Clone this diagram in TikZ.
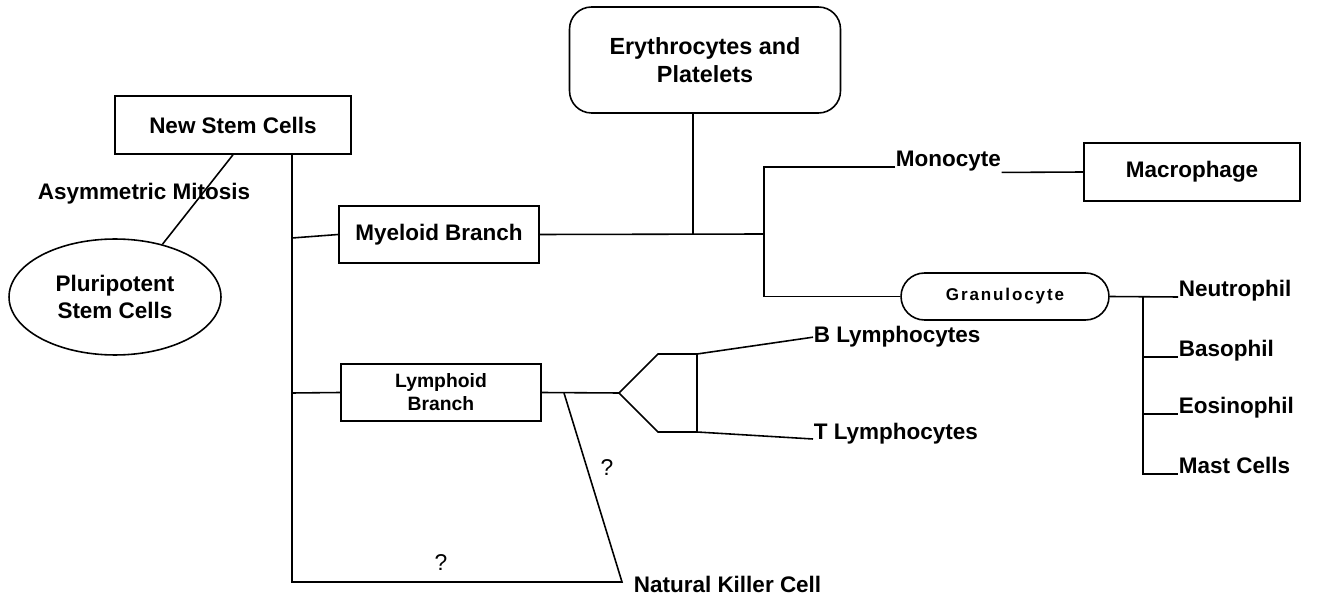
\documentclass[tikz,border=0pt]{standalone}
\usepackage{fontspec}
\setmainfont{Liberation Sans}
\newfontfamily\granfont[LetterSpace=11]{Liberation Sans}
\usetikzlibrary{shapes.geometric}

\begin{document}
\begin{tikzpicture}[x=0.02cm, y=-0.02cm, line width=0.9pt,
    every node/.style={font=\fontsize{12.8}{14}\selectfont\bfseries},
    cellbox/.style={draw, rectangle, inner sep=0, align=center},
    lbl/.style={inner sep=0, anchor=base west}]
    \useasboundingbox (0,0) rectangle (1321,597);
    % boxes
    \node[cellbox, minimum width=4.72cm, minimum height=1.16cm] (nsc) at (233,125) {New Stem Cells};
    \node[draw, ellipse, inner sep=0, align=center, minimum width=4.24cm, minimum height=2.32cm,
        font=\fontsize{12.8}{15.4}\selectfont\bfseries] (psc) at (115,297) {Pluripotent\\Stem Cells};
    \node (asym) at (144,194) {Asymmetric Mitosis};
    \node[cellbox, rounded corners=0.44cm, minimum width=5.42cm, minimum height=2.12cm,
        font=\fontsize{13.3}{16}\selectfont\bfseries] (ery) at (705,60) {Erythrocytes and\\Platelets};
    \node[cellbox, minimum width=4cm, minimum height=1.14cm] (myb) at (439,234.5) {Myeloid Branch};
    \node[cellbox, minimum width=4cm, minimum height=1.14cm,
        font=\fontsize{11}{13}\selectfont\bfseries] (lyb) at (441,392.5) {Lymphoid\\Branch};
    \node[cellbox, minimum width=4.32cm, minimum height=1.16cm] (mac) at (1192,172) {Macrophage};
    \node[cellbox, rounded corners=0.47cm, minimum width=4.16cm, minimum height=0.94cm,
        font=\granfont\fontsize{9.7}{11}\selectfont\bfseries] (gran) at (1005,296.5) {Granulocyte};
    % plain labels
    \node[lbl] (mono) at (895,167) {Monocyte};
    \node[lbl] (neu) at (1178,297) {Neutrophil};
    \node[lbl] (baso) at (1178,357) {Basophil};
    \node[lbl] (eos) at (1178,414) {Eosinophil};
    \node[lbl] (mast) at (1178,474) {Mast Cells};
    \node[lbl] (blym) at (813,343) {B Lymphocytes};
    \node[lbl] (tlym) at (813,439) {T Lymphocytes};
    \node[lbl] (nk) at (633,592) {Natural Killer Cell};
    \node[font=\fontsize{13}{14}\selectfont] (q1) at (607,468) {?};
    \node[font=\fontsize{13}{14}\selectfont] (q2) at (441,563) {?};
    % junctions
    \coordinate (myj) at (292,238);
    \coordinate (lyj) at (292,393);
    \coordinate (bot) at (292,582);
    \coordinate (nkj) at (622,582);
    \coordinate (nkq) at (564,393);
    \coordinate (split) at (764,234);
    \coordinate (eryj) at (693,234);
    \coordinate (fork) at (619,393);
    \coordinate (bt) at (697,354);
    \coordinate (tt) at (697,432);
    \coordinate (grj) at (1143,297);
    % connectors
    \draw (psc.48) -- (nsc.south);
    \draw (nsc.south -| bot) -- (bot) -- (nkj) -- (nkq);
    \draw (myj) -- (myb.west);
    \draw (lyj) -- (lyb.west);
    \draw (myb.east) -- (split);
    \draw (ery.south -| eryj) -- (eryj);
    \draw (mono.base west) -| (split) |- (gran.west);
    \draw (mono.south east) -- (mac.west);
    \draw (lyb.east) -- (fork) -- ++(39,-39) -- (bt) -- (tt) -- ++(-39,0) -- (fork);
    \draw (bt) -- (blym.west);
    \draw (tt) -- (tlym.base west);
    \draw (gran.east) -- (neu.base west);
    \foreach \c in {baso,eos,mast} \draw (grj) |- (\c.base west);
\end{tikzpicture}
\end{document}
